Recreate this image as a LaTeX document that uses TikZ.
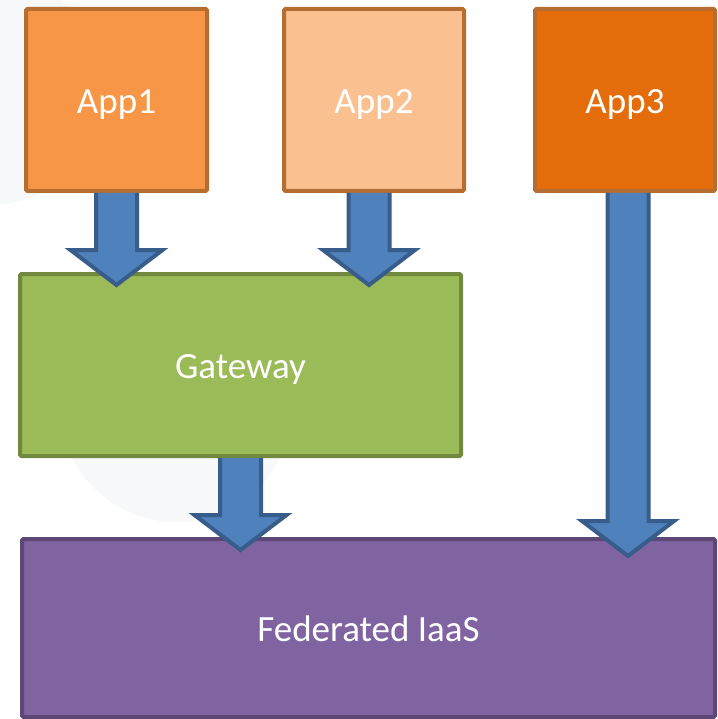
\documentclass[tikz,border=0pt]{standalone}
\usepackage{fontspec}
\setmainfont{Carlito}
\usetikzlibrary{calc}

\definecolor{apponefill}{HTML}{F79646}
\definecolor{apptwofill}{HTML}{FAC090}
\definecolor{appthreefill}{HTML}{E46C0A}
\definecolor{appedge}{HTML}{B66D31}
\definecolor{gwfill}{HTML}{9BBB59}
\definecolor{gwedge}{HTML}{71893F}
\definecolor{iaasfill}{HTML}{8064A2}
\definecolor{iaasedge}{HTML}{5C4776}
\definecolor{arrowfill}{HTML}{4F81BD}
\definecolor{arrowedge}{HTML}{385D8A}
\definecolor{haze}{HTML}{F6F8FA}

% Block arrow pointing down: shaft from #1 (its top, left open) to the tip #2
\newcommand\fatdown[2]{%
  \filldraw[fatarrow] let \p1=(#1), \p2=(#2) in
    (\x1-20.5pt,\y1) -- (\x1-20.5pt,\y2+35pt) -- (\x1-46pt,\y2+35pt)
    -- (\x2,\y2) -- (\x1+46pt,\y2+35pt) -- (\x1+20.5pt,\y2+35pt)
    -- (\x1+20.5pt,\y1);
}

\begin{document}
\begin{tikzpicture}[x=1pt,y=-1pt,
  box/.style={draw, line width=4pt, rounded corners=1.5pt, text=white,
    font=\fontsize{37}{44}\selectfont, text height=27pt, text depth=0pt,
    inner sep=0pt, anchor=center},
  fatarrow/.style={fill=arrowfill, draw=arrowedge, line width=4pt}]
\useasboundingbox (0,0) rectangle (717,719);

% faint backdrop discs
\fill[haze] (-10,90) circle[radius=115pt];
\fill[haze] (176,406) circle[radius=116pt];

% blocks
\node[box, fill=apponefill, draw=appedge, minimum width=181pt, minimum height=182pt]
  (app1) at (116.5,100) {App1};
\node[box, fill=apptwofill, draw=appedge, minimum width=180pt, minimum height=182pt]
  (app2) at (374,100) {App2};
\node[box, fill=appthreefill, draw=appedge, minimum width=180pt, minimum height=182pt]
  (app3) at (625,100) {App3};
\node[box, fill=gwfill, draw=gwedge, minimum width=441pt, minimum height=182pt]
  (gw) at (240.5,365) {Gateway};
\node[box, fill=iaasfill, draw=iaasedge, minimum width=693pt, minimum height=178pt]
  (iaas) at (368.5,628) {Federated IaaS};

% arrow start and tip points
\coordinate (s1) at (app1.south);
\coordinate (t1) at ($(s1 |- gw.north)+(0,13)$);
\coordinate (s2) at ($(app2.south)+(-5,0)$);
\coordinate (t2) at ($(s2 |- gw.north)+(0,13)$);
\coordinate (s3) at (gw.south);
\coordinate (t3) at ($(s3 |- iaas.north)+(0,13)$);
\coordinate (s4) at ($(app3.south)+(3,0)$);
\coordinate (t4) at ($(s4 |- iaas.north)+(0,19)$);

\fatdown{s1}{t1}
\fatdown{s2}{t2}
\fatdown{s3}{t3}
\fatdown{s4}{t4}
\end{tikzpicture}
\end{document}
